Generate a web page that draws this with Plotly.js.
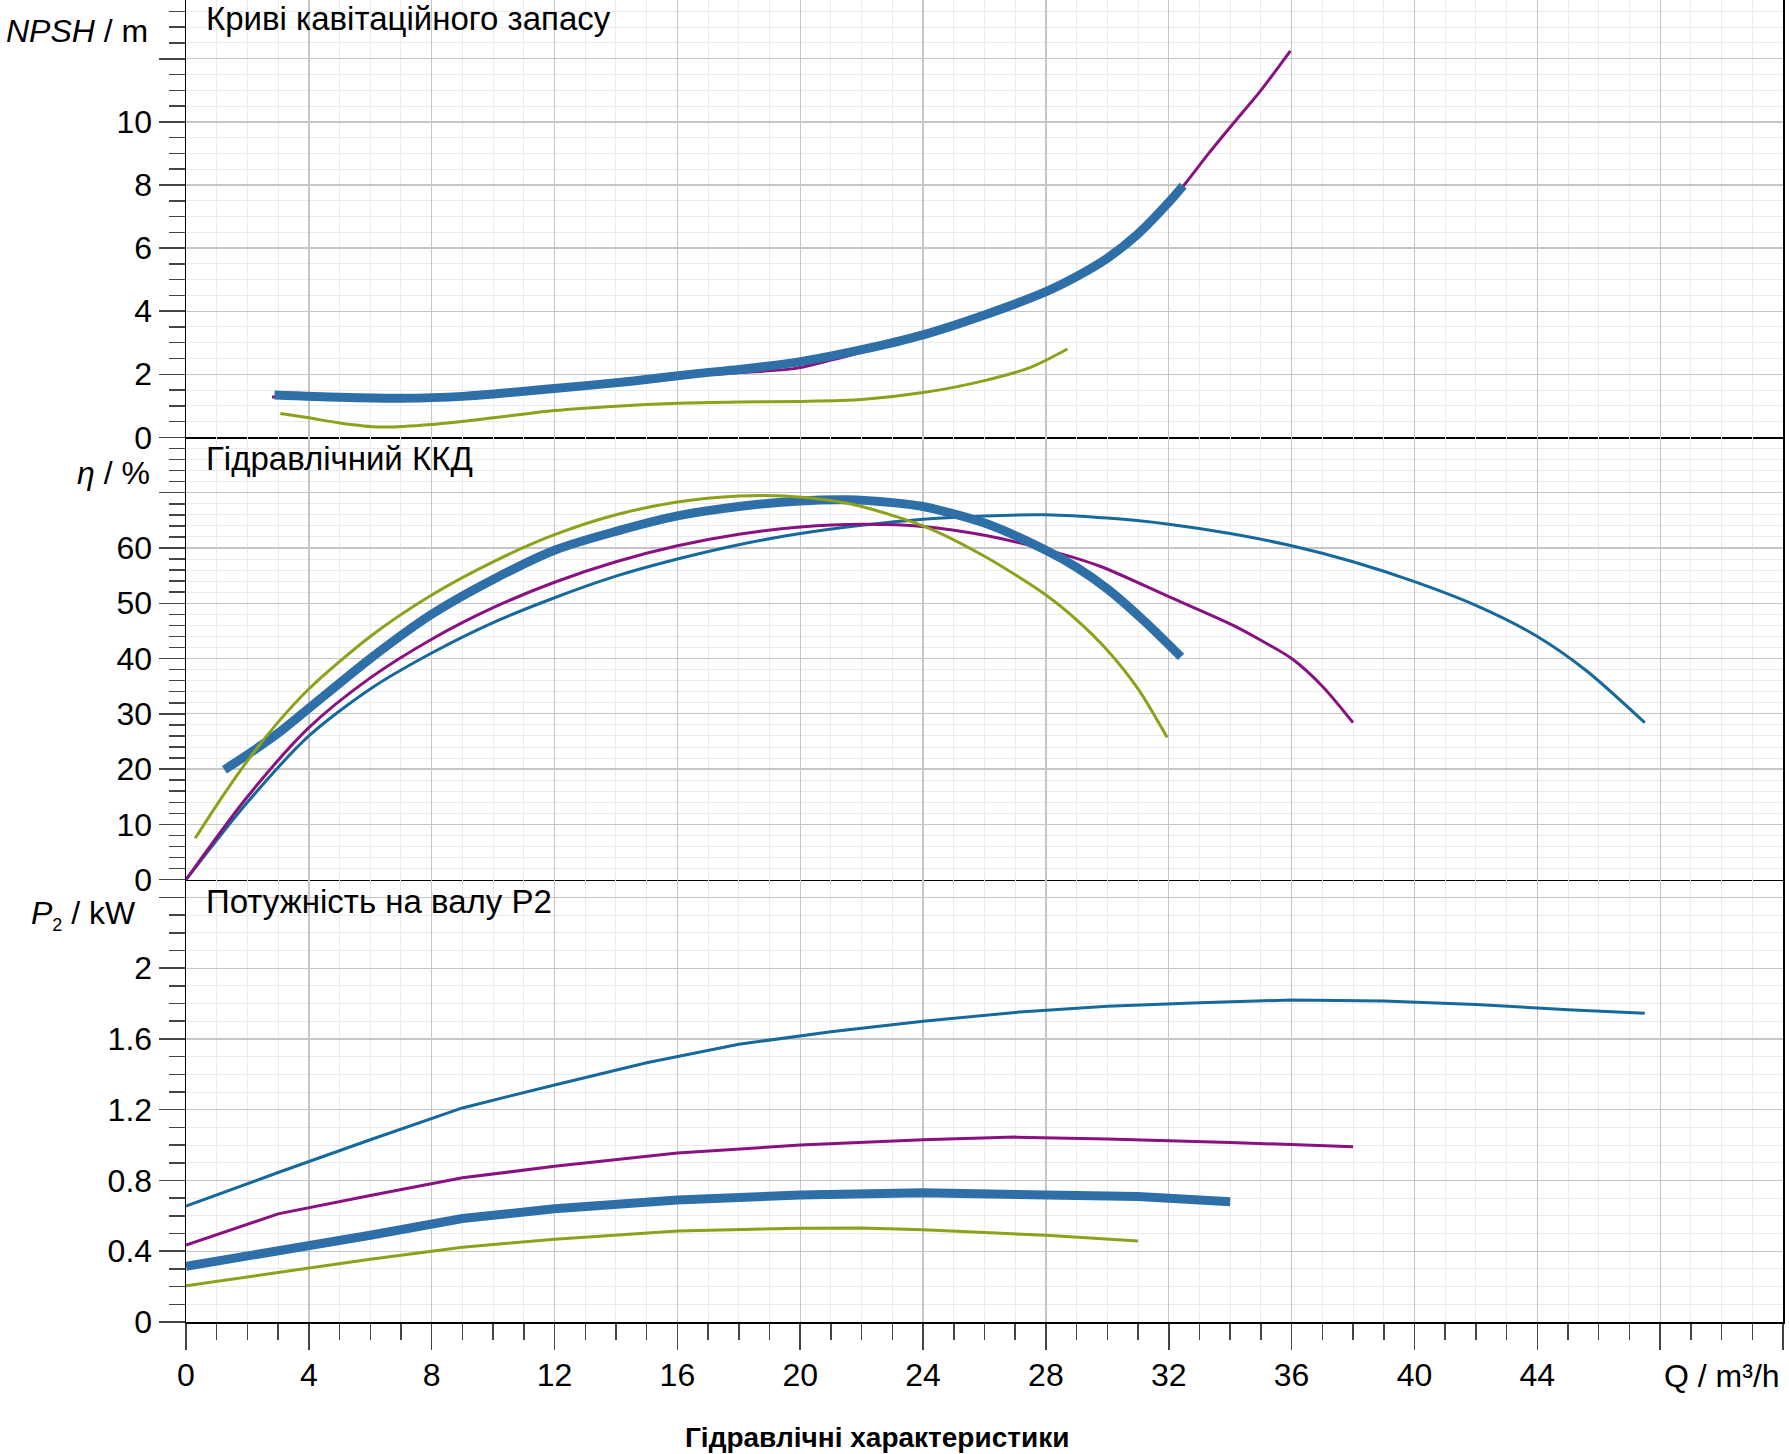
<!DOCTYPE html>
<html>
<head>
<meta charset="utf-8">
<script src="https://cdn.plot.ly/plotly-3.0.1.min.js"></script>
<style>
  html, body { margin: 0; padding: 0; background: #fff; }
  #chart { width: 1789px; height: 1454px; }
</style>
</head>
<body>
<div id="chart"></div>
<script>
// ---- Pump curves: flow Q (m³/h) against NPSH, efficiency and shaft power ----

// NPSH / m
const npshThickQ = [2.88, 5, 7, 9, 12, 14.5, 16.7, 18, 20, 22, 24, 26, 28, 29, 30, 31, 32, 32.47];
const npshThick  = [1.34, 1.27, 1.24, 1.30, 1.55, 1.78, 2.03, 2.15, 2.40, 2.78, 3.25, 3.88, 4.62, 5.10, 5.68, 6.45, 7.45, 7.98];
const npshPurpleQ = [2.8, 5, 7, 9, 12, 14.5, 16.7, 18.5, 19.8, 21, 22, 24, 26, 28, 29, 30, 31, 32, 32.5, 33.3, 34.1, 35, 35.96];
const npshPurple  = [1.28, 1.26, 1.23, 1.29, 1.52, 1.74, 1.97, 2.08, 2.18, 2.45, 2.70, 3.20, 3.85, 4.60, 5.08, 5.66, 6.43, 7.43, 8.0, 9.0, 9.95, 11.0, 12.25];
const npshOliveQ = [3.07, 4, 5, 6.3, 8, 10, 12, 14, 16, 18, 20, 22, 24, 26, 27.5, 28.7];
const npshOlive  = [0.76, 0.62, 0.46, 0.33, 0.41, 0.62, 0.85, 0.99, 1.08, 1.12, 1.14, 1.20, 1.42, 1.80, 2.22, 2.80];

// Hydraulic efficiency η / %
const etaBlueQ = [0, 2, 4, 6, 8, 10, 12, 14, 16, 18, 20, 22, 24, 26, 28, 30, 32, 34, 36, 38, 40, 42, 44, 45.6, 47.5];
const etaBlue  = [0, 14, 26, 34.5, 41, 46.5, 51, 54.9, 58, 60.6, 62.6, 64.1, 65.2, 65.8, 66, 65.4, 64.3, 62.6, 60.4, 57.5, 53.9, 49.6, 44.0, 37.8, 28.4];
const etaPurpleQ = [0, 2, 4, 6, 8, 10, 12, 14, 16, 18, 20, 22, 24, 26, 28, 29.76, 32, 34.1, 35, 36, 37, 38];
const etaPurple  = [0, 15, 27.5, 36.5, 43.5, 49.2, 53.8, 57.5, 60.4, 62.5, 63.8, 64.3, 63.9, 62.3, 59.7, 56.7, 51.2, 46.0, 43.3, 40.0, 35.0, 28.4];
const etaThickQ = [1.25, 2, 3, 4, 6, 8, 10, 12, 14, 16, 18, 20, 21.5, 23, 24, 26, 28, 29, 30, 31.2, 32.4];
const etaThick  = [19.9, 22.6, 26.5, 31, 40, 48, 54.3, 59.6, 63, 65.8, 67.5, 68.5, 68.7, 68.2, 67.5, 64.5, 59.6, 56.5, 52.6, 46.8, 40.3];
const etaOliveQ = [0.3, 1, 2, 3, 4, 6, 8, 10, 12, 14, 16, 18, 19.5, 21, 22, 24, 26, 28, 29, 30, 31, 31.95];
const etaOlive  = [7.5, 13.5, 21.5, 28.5, 34.5, 44, 51.5, 57.5, 62.4, 66, 68.3, 69.4, 69.4, 68.6, 67.5, 64, 58.5, 51.5, 47, 41.5, 34.5, 25.7];

// Shaft power P2 / kW
const pBlueQ = [0, 3, 6, 9, 12, 15, 18, 21, 24, 27, 30, 33, 36, 39, 42, 45, 47.5];
const pBlue  = [0.655, 0.845, 1.03, 1.21, 1.34, 1.465, 1.57, 1.64, 1.70, 1.75, 1.785, 1.805, 1.82, 1.815, 1.795, 1.765, 1.745];
const pPurpleQ = [0, 3, 6, 9, 12, 16, 20, 24, 27, 30, 34, 38];
const pPurple  = [0.435, 0.611, 0.715, 0.815, 0.88, 0.955, 1.0, 1.03, 1.045, 1.035, 1.015, 0.99];
const pThickQ = [0, 3, 6, 9, 12, 16, 20, 24, 28, 31, 34];
const pThick  = [0.315, 0.397, 0.49, 0.585, 0.64, 0.69, 0.718, 0.73, 0.725, 0.71, 0.68];
const pOliveQ = [0, 3, 6, 9, 12, 16, 20, 22, 24, 28, 31];
const pOlive  = [0.205, 0.282, 0.355, 0.423, 0.468, 0.514, 0.53, 0.532, 0.522, 0.49, 0.458];

// Axis ticks
const qTicks = [0, 4, 8, 12, 16, 20, 24, 28, 32, 36, 40, 44, 48, 52];
const qTickText = ['0', '4', '8', '12', '16', '20', '24', '28', '32', '36', '40', '44', '', ''];
const npshTicks = [0, 2, 4, 6, 8, 10, 12];
const npshTickText = ['0', '2', '4', '6', '8', '10', ''];
const etaTicks = [0, 10, 20, 30, 40, 50, 60, 70, 80];
const etaTickText = ['0', '10', '20', '30', '40', '50', '60', '', ''];
const pTicks = [0, 0.4, 0.8, 1.2, 1.6, 2.0, 2.4];
const pTickText = ['0', '0.4', '0.8', '1.2', '1.6', '2', ''];

// ---- styling ----
const FONT = 'Liberation Sans, Arial, sans-serif';
const C_BLUE = '#16699a';
const C_THICK = '#2f6fa7';
const C_PURPLE = '#8a1180';
const C_OLIVE = '#8ba21a';
const THIN = 3, THICK = 9;

// plot-area pixel frame, used to place the free text labels
const PL = 186, PR = 1783, PT = 0, PB = 1322;
const px = v => (v - PL) / (PR - PL);
const py = v => (PB - v) / (PB - PT);

function line(x, y, color, width, xa, ya, shape) {
  return {
    x: x, y: y, type: 'scatter', mode: 'lines',
    line: { color: color, width: width, shape: shape || 'spline', smoothing: 0.8 },
    xaxis: xa, yaxis: ya, hoverinfo: 'x+y', showlegend: false
  };
}

const traces = [
  line(npshPurpleQ, npshPurple, C_PURPLE, THIN, 'x', 'y'),
  line(npshOliveQ, npshOlive, C_OLIVE, THIN, 'x', 'y'),
  line(npshThickQ, npshThick, C_THICK, THICK, 'x', 'y'),

  line(etaBlueQ, etaBlue, C_BLUE, THIN, 'x2', 'y2'),
  line(etaPurpleQ, etaPurple, C_PURPLE, THIN, 'x2', 'y2'),
  line(etaThickQ, etaThick, C_THICK, THICK, 'x2', 'y2'),
  line(etaOliveQ, etaOlive, C_OLIVE, THIN, 'x2', 'y2'),

  line(pBlueQ, pBlue, C_BLUE, THIN, 'x3', 'y3', 'linear'),
  line(pPurpleQ, pPurple, C_PURPLE, THIN, 'x3', 'y3', 'linear'),
  line(pThickQ, pThick, C_THICK, THICK, 'x3', 'y3', 'linear'),
  line(pOliveQ, pOlive, C_OLIVE, THIN, 'x3', 'y3', 'linear')
];

const GRID = '#c6c6c6', MINORGRID = '#ebebeb', TICKC = '#444';
const H = 442.3 / 1322;

function xAxis(anchor, withTicks) {
  const a = {
    anchor: anchor, range: [0, 52], autorange: false, fixedrange: true,
    showline: true, linecolor: '#000', linewidth: 1.5, mirror: false, zeroline: false,
    showgrid: true, gridcolor: GRID, gridwidth: 1.3,
    tickmode: 'array', tickvals: qTicks, ticktext: qTickText,
    minor: { dtick: 1, tick0: 0, showgrid: true, gridcolor: MINORGRID, gridwidth: 1 }
  };
  if (withTicks) {
    a.ticks = 'outside'; a.ticklen = 26; a.tickwidth = 1.5; a.tickcolor = TICKC;
    a.tickfont = { family: FONT, size: 32, color: '#000' };
    a.minor.ticks = 'outside'; a.minor.ticklen = 16; a.minor.tickwidth = 1.5; a.minor.tickcolor = TICKC;
    a.ticklabelstandoff = -2;
  } else {
    a.ticks = ''; a.showticklabels = false;
    a.matches = 'x3';
  }
  return a;
}

function yAxis(domain, range, vals, text, minorStep) {
  return {
    anchor: domain.anchor, domain: domain.d, range: range, autorange: false, fixedrange: true,
    showline: true, linecolor: '#000', linewidth: 1.5, mirror: true, zeroline: false,
    showgrid: true, gridcolor: GRID, gridwidth: 1.3,
    tickmode: 'array', tickvals: vals, ticktext: text,
    ticks: 'outside', ticklen: 26, tickwidth: 1.5, tickcolor: TICKC,
    tickfont: { family: FONT, size: 32, color: '#000' },
    ticklabelstandoff: 0,
    minor: { dtick: minorStep, tick0: 0, ticks: 'outside', ticklen: 16, tickwidth: 1.5,
             tickcolor: TICKC, showgrid: true, gridcolor: MINORGRID, gridwidth: 1 }
  };
}

function label(text, x, y, anchor, size, bold) {
  return {
    xref: 'paper', yref: 'paper', x: px(x), y: py(y),
    xanchor: anchor, yanchor: 'middle', showarrow: false,
    text: bold ? '<b>' + text + '</b>' : text,
    font: { family: FONT, size: size, color: '#000' }
  };
}

const layout = {
  width: 1789, height: 1454,
  margin: { l: PL, r: 1789 - PR, t: PT, b: 1454 - PB, pad: 0 },
  paper_bgcolor: '#fff', plot_bgcolor: '#fff',
  showlegend: false,
  font: { family: FONT, size: 32, color: '#000' },
  xaxis: xAxis('y', false),
  xaxis2: xAxis('y2', false),
  xaxis3: xAxis('y3', true),
  yaxis: yAxis({ anchor: 'x', d: [2 * H, 1] }, [0, 437.5 / 31.56], npshTicks, npshTickText, 0.5),
  yaxis2: yAxis({ anchor: 'x2', d: [H, 2 * H] }, [0, 80], etaTicks, etaTickText, 2),
  yaxis3: yAxis({ anchor: 'x3', d: [0, H] }, [0, 2.5], pTicks, pTickText, 0.1),
  annotations: [
    label('Криві кавітаційного запасу', 204, 18, 'left', 33),
    label('Гідравлічний ККД', 204, 458, 'left', 33),
    label('Потужність на валу P2', 204, 901, 'left', 33),
    label('<i>NPSH</i> / m', 150, 31, 'right', 32),
    label('<i>η</i> / %', 152, 473, 'right', 32),
    label('<i>P</i><sub><span style="font-size:18px">2</span></sub> / kW', 138, 915, 'right', 32),
    label('Q / m³/h', 1782, 1376, 'right', 32),
    label('Гідравлічні характеристики', 877, 1437, 'center', 28, true)
  ]
};

Plotly.newPlot('chart', traces, layout, { staticPlot: true, displayModeBar: false });
</script>
</body>
</html>
